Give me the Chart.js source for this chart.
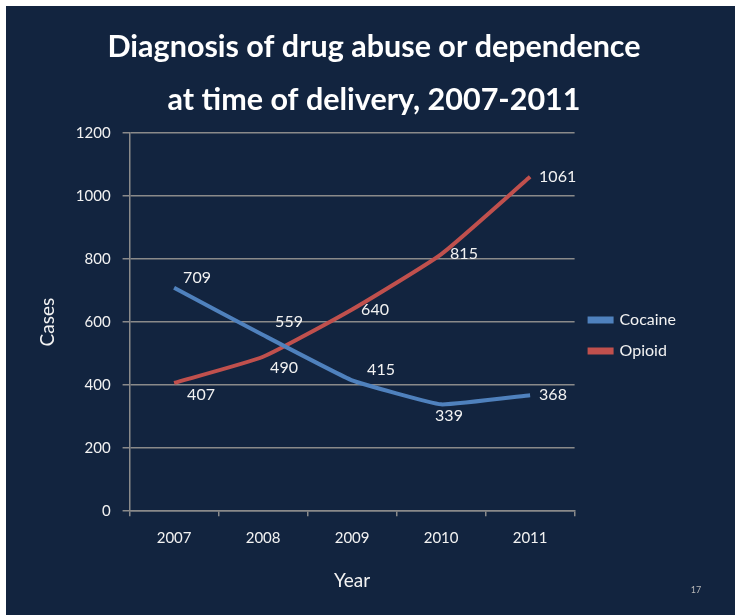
<!DOCTYPE html>
<html>
<head>
<meta charset="utf-8">
<title>Diagnosis of drug abuse or dependence</title>
<script src="https://cdn.jsdelivr.net/npm/chart.js@4"></script>
<style>
    body { margin: 0; background: #ffffff; }
    #chart { position: absolute; left: 6px; top: 6px; background: #12243f; }
</style>
</head>
<body>
<canvas id="chart" width="729" height="609"></canvas>
<script>
// chart data
const years = ['2007', '2008', '2009', '2010', '2011'];
const cocaine = [709, 559, 415, 339, 368];
const opioid = [407, 490, 640, 815, 1061];
const titleLines = ['Diagnosis of drug abuse or dependence', 'at time of delivery, 2007-2011'];

// where each value label sits relative to its point (left edge, middle)
const labelOffsets = [
    [[9, -10], [12, -13], [15, -11], [-6, 11], [9, 0]],
    [[13, 12], [7, 11], [9, 0], [9, 0], [9, 0]]
];

const FONT = 'Lato, "Open Sans", sans-serif';
const TEXT = '#f2f2f2';
const GRID = '#8a8a8a';

// slide title, centred a bit right of the canvas middle like the slide
const slideTitle = {
    id: 'slideTitle',
    afterDraw(chart) {
        const ctx = chart.ctx;
        ctx.save();
        ctx.font = 'bold 30.5px ' + FONT;
        ctx.fillStyle = '#ffffff';
        ctx.textAlign = 'center';
        ctx.textBaseline = 'middle';
        ctx.fillText(titleLines[0], 368, 41);
        ctx.fillText(titleLines[1], 368, 94);
        ctx.restore();
    }
};

// draws the numbers next to the points
const valueLabels = {
    id: 'valueLabels',
    afterDatasetsDraw(chart) {
        const ctx = chart.ctx;
        ctx.save();
        ctx.font = '16px ' + FONT;
        ctx.fillStyle = TEXT;
        ctx.textAlign = 'left';
        ctx.textBaseline = 'middle';
        chart.data.datasets.forEach((ds, i) => {
            const meta = chart.getDatasetMeta(i);
            meta.data.forEach((pt, j) => {
                const off = labelOffsets[i][j];
                ctx.fillText(ds.data[j], pt.x + off[0], pt.y + off[1]);
            });
        });
        ctx.restore();
    }
};

// little slide number in the corner
const slideNumber = {
    id: 'slideNumber',
    afterDraw(chart) {
        const ctx = chart.ctx;
        ctx.save();
        ctx.font = '9px ' + FONT;
        ctx.fillStyle = '#b8b8b8';
        ctx.textAlign = 'center';
        ctx.textBaseline = 'middle';
        ctx.fillText('17', chart.width - 39, chart.height - 25);
        ctx.restore();
    }
};

const ctx = document.getElementById('chart').getContext('2d');
new Chart(ctx, {
    type: 'line',
    data: {
        labels: years,
        datasets: [
            {
                label: 'Cocaine',
                data: cocaine,
                borderColor: '#4f81bd',
                backgroundColor: '#4f81bd',
                borderWidth: 4,
                pointRadius: 0,
                tension: 0.1
            },
            {
                label: 'Opioid',
                data: opioid,
                borderColor: '#c0504d',
                backgroundColor: '#c0504d',
                borderWidth: 4,
                pointRadius: 0,
                tension: 0.15
            }
        ]
    },
    options: {
        responsive: false,
        animation: false,
        layout: { padding: { left: 30, right: 49, top: 127, bottom: 23 } },
        plugins: {
            legend: {
                position: 'right',
                align: 'start',
                // empty title only used as a spacer to push the items down
                title: { display: true, text: '', font: { size: 1, lineHeight: 1 }, padding: { top: 163, bottom: 0 } },
                labels: {
                    color: TEXT,
                    font: { family: FONT, size: 16 },
                    boxWidth: 22,
                    boxHeight: 3,
                    padding: 15
                }
            },
            tooltip: { enabled: false }
        },
        scales: {
            x: {
                offset: true,
                grid: {
                    offset: true,
                    drawOnChartArea: false,
                    color: GRID,
                    tickLength: 5,
                    lineWidth: 1.5
                },
                border: { color: GRID, width: 1.5 },
                ticks: { color: TEXT, font: { family: FONT, size: 15 }, padding: 13 },
                title: {
                    display: true,
                    text: 'Year',
                    color: TEXT,
                    font: { family: FONT, size: 19 },
                    padding: { top: 9, bottom: 0 }
                }
            },
            y: {
                min: 0,
                max: 1200,
                grid: { color: GRID, tickLength: 7, lineWidth: 1.5 },
                border: { color: GRID, width: 1.5 },
                ticks: {
                    stepSize: 200,
                    color: TEXT,
                    font: { family: FONT, size: 15 },
                    padding: 12,
                    callback: (value) => String(value)
                },
                title: {
                    display: true,
                    text: 'Cases',
                    color: TEXT,
                    font: { family: FONT, size: 19 },
                    padding: { top: 0, bottom: 5 }
                }
            }
        }
    },
    plugins: [slideTitle, valueLabels, slideNumber]
});
</script>
</body>
</html>
